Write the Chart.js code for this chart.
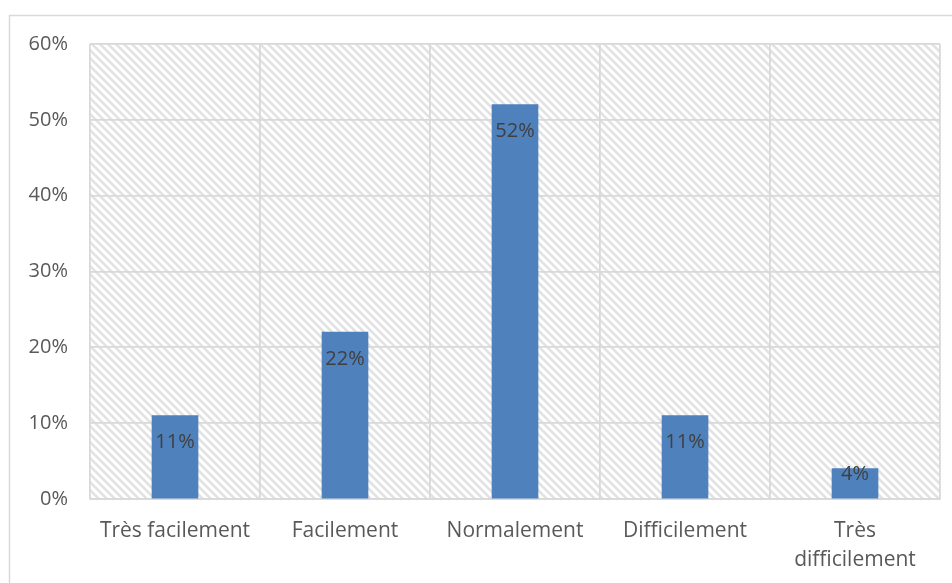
<!DOCTYPE html>
<html lang="fr">
<head>
<meta charset="UTF-8">
<title>Répartition des réponses</title>
<script src="https://cdn.jsdelivr.net/npm/chart.js"></script>
<style>
    html, body {
        margin: 0;
        padding: 0;
        background: #ffffff;
    }
    .wrap {
        width: 952px;
        height: 583px;
        position: relative;
    }
</style>
</head>
<body>
<div class="wrap">
    <canvas id="chart" width="952" height="583"></canvas>
</div>
<script>
// Data
const categories = ['Très facilement', 'Facilement', 'Normalement', 'Difficilement', ['Très', 'difficilement']];
const shares = [11, 22, 52, 11, 4];
const yTicks = [0, 10, 20, 30, 40, 50, 60];

const FONT = "'Open Sans', sans-serif";
const GRID = '#d9d9d9';

// diagonal hatch used as plot background
function makeHatch() {
    const c = document.createElement('canvas');
    c.width = 8;
    c.height = 8;
    const g = c.getContext('2d');
    g.strokeStyle = '#e2e2e2';
    g.lineWidth = 2.6;
    g.beginPath();
    g.moveTo(-2, -2); g.lineTo(10, 10);
    g.moveTo(-10, -2); g.lineTo(2, 10);
    g.moveTo(6, -2); g.lineTo(18, 10);
    g.stroke();
    return c;
}

const backdrop = {
    id: 'backdrop',
    beforeDraw(chart) {
        const ctx = chart.ctx;
        const a = chart.chartArea;
        ctx.save();
        // outer frame
        ctx.strokeStyle = GRID;
        ctx.lineWidth = 1.5;
        ctx.strokeRect(9.5, 15.5, 960, 600);
        // hatched plot area
        ctx.fillStyle = ctx.createPattern(makeHatch(), 'repeat');
        ctx.fillRect(a.left, a.top, a.right - a.left, a.bottom - a.top);
        ctx.restore();
    }
};

// value labels at the inside end of each bar, kept above the baseline
const barLabels = {
    id: 'barLabels',
    afterDatasetsDraw(chart) {
        const ctx = chart.ctx;
        const meta = chart.getDatasetMeta(0);
        ctx.save();
        ctx.font = '20px ' + FONT;
        ctx.fillStyle = '#404040';
        ctx.textAlign = 'center';
        ctx.textBaseline = 'middle';
        meta.data.forEach((bar, i) => {
            const y = Math.min(bar.y + 27, bar.base - 24);
            ctx.fillText(shares[i] + '%', bar.x, y);
        });
        ctx.restore();
    }
};

new Chart(document.getElementById('chart'), {
    type: 'bar',
    data: {
        labels: categories,
        datasets: [{
            data: shares,
            backgroundColor: '#4f81bd',
            barThickness: 46
        }]
    },
    options: {
        responsive: false,
        animation: false,
        layout: { padding: { top: 44, right: 12, left: 0, bottom: 0 } },
        plugins: {
            legend: { display: false },
            tooltip: { enabled: false }
        },
        scales: {
            x: {
                grid: { color: GRID, lineWidth: 1.8, drawTicks: false, offset: true },
                border: { color: GRID, width: 1.8 },
                ticks: {
                    color: '#595959',
                    font: { family: FONT, size: 21, lineHeight: 1.35 },
                    padding: 18,
                    maxRotation: 0,
                    autoSkip: false
                },
                afterFit(scale) { scale.height = 84; }
            },
            y: {
                min: 0,
                max: 60,
                afterBuildTicks(scale) {
                    scale.ticks = yTicks.map(v => ({ value: v }));
                },
                grid: { color: GRID, lineWidth: 1.8, drawTicks: false },
                border: { display: false },
                ticks: {
                    color: '#595959',
                    font: { family: FONT, size: 20 },
                    padding: 22,
                    callback: v => v + '%'
                },
                afterFit(scale) { scale.width = 90; }
            }
        }
    },
    plugins: [backdrop, barLabels]
});
</script>
</body>
</html>
